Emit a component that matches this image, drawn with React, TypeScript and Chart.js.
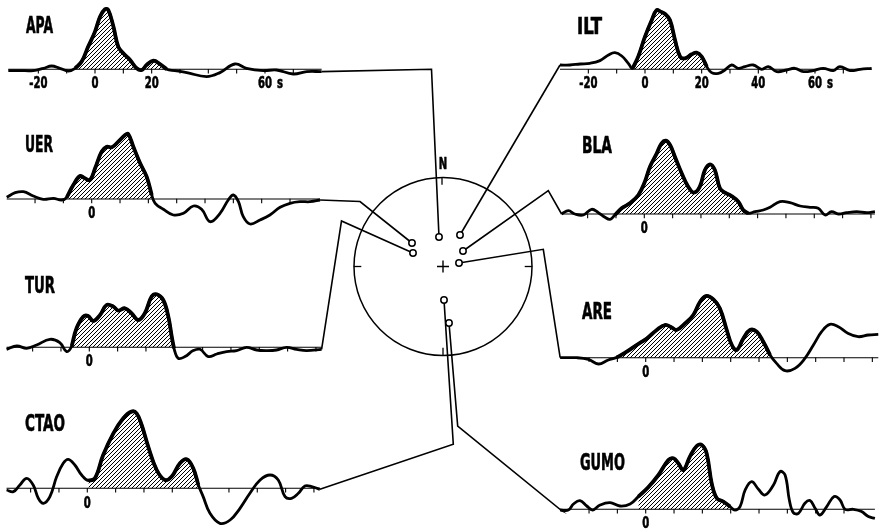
import React, { useEffect, useRef } from "react";
import { Chart, registerables } from "chart.js";
Chart.register(...registerables);

const W = 882;
const H = 530;
const PXS = 2.833; // px per second on every trace

// ---- trace data: time (s) and amplitude ----
const apaT = [-30.6,-26.5,-21.8,-18.2,-15.3,-12.4,-9.4,-7,-4.7,-2.4,0,1.8,3.5,4.7,6.5,8.2,10,12.4,14.7,16.5,18.2,20.6,22.9,25.3,28.2,32.4,39.4,44.1,49.4,53.5,59.4,64.1,70,74.7,80];
const apaA = [-1.3,-1.3,-1.3,1,3.3,1,-1.7,1,7.7,22.7,37.7,52.7,60,59.3,42.7,22.7,16,9.3,1,-0.7,4.3,8.7,5.3,0,-1.3,-3.3,-7.3,-3.3,5.3,1,-1.3,-0.7,-4.7,-2.3,-2.3];

const iltT = [-30,-26.5,-22.9,-19.4,-15.9,-12.9,-10.6,-8.2,-5.9,-4.4,-2.4,0,2.4,4.1,5.5,7.1,8.8,10.6,12.4,14.1,16.5,18.2,20,21.8,23.5,25.9,28.2,30.6,32.9,35.3,38.2,41.2,43.5,46.5,50,52.9,55.9,59.4,62.9,66.5,68.8,72.4,75.9,80];
const iltA = [4.3,4.3,5.3,6,8.7,14.3,16.7,13.3,6,1,12.7,32.7,49.3,59.3,57.7,55.3,49.3,29.3,12.7,11,15,16.7,12.7,2.7,-3.3,-4,-0.7,4.3,1,2.7,4.3,0,2.7,-2.3,-0.7,1,-2.3,-1.3,1,-1.3,2.7,-1.3,0,1];

const uerT = [-30,-27,-24.1,-20.6,-17.1,-13.5,-10.6,-8.8,-6.5,-4.1,-2.4,-0.6,1.2,3.5,5.3,7.1,9.4,11.8,12.9,14.7,17.1,19.4,21.2,22.4,25.3,28.8,32.4,35.9,38.8,41.8,45.3,48.2,50,51.8,53.5,55.9,59.4,62.9,66.5,70,73.5,77.1,80.6];
const uerA = [1.7,6.3,7.3,3,-0.3,0.7,-1,1.7,14,23,20.7,19,30.7,47.3,52.3,51.7,57.3,64,65,52.3,35.7,22.3,4,-4.3,-10.3,-16,-14.3,-7,-10.3,-22.7,-14.3,-1,4,-2.7,-17.7,-25,-21,-16,-8.3,-4.3,-2.7,-2.7,-1];

const turT = [-29.2,-25.6,-22.1,-18.6,-13.9,-10.4,-8,-6.2,-4.5,-2.1,-0.4,1.4,3.8,6.1,8.5,10.2,12.6,14.9,17.3,19.6,22,23.8,26.1,27.9,29.1,29.9,31.4,33.8,36.7,39.1,42,45,48.5,52,55.5,59.1,62.6,66.1,69.6,73.2,76.7,82];
const turA = [-2,1.3,-1,2.3,8,4.7,-4.3,1.3,19,30.7,31.3,26.3,32.3,42.3,40.7,36.7,39,34,27.3,34,50.7,53,47.3,30.7,10.7,-1,-11,-9.3,-3.3,-2,-9.3,-6.7,-4.3,-3.3,0,-2.7,-3.3,-2.7,0,-2,-3.3,-2];

const ctaoT = [-28.5,-26.1,-23.8,-21.4,-19.1,-17.3,-15.5,-13.2,-10.8,-8.5,-6.7,-4.4,-2,0.4,2.7,5.6,9.2,12.7,15.6,17.4,19.2,21.5,24.5,27.4,29.8,32.7,35.1,37.4,39.2,40.9,43.3,46.8,50.4,53.9,57.4,61,64.5,67.4,69.8,72.1,74.5,76.8,79.2,82.1];
const ctaoA = [-1.7,-3.3,3.3,10,3.3,-10,-15,-8.3,11.7,25,29,23.3,13.3,7.7,10,33.3,55,70,76.7,75,63.3,41.7,18.3,8.3,11.7,25,29,20,3.3,-8.3,-25,-35,-31.7,-20,-5,8.3,13.3,8.3,-8.3,-10,-5,2.3,1.7,-1];

const blaT = [-29.2,-26.8,-24.5,-21.5,-18.6,-16.2,-13.9,-12.1,-10.4,-8,-5.1,-2.1,0.2,2,4.4,6.1,7.6,9.1,10.8,13.2,15.5,17.5,19.6,21.4,23.2,24.9,26.7,28.5,30.8,33.2,34.9,36.7,39.1,42,44.4,47.9,51.4,55,58.5,61.4,63.8,66.1,68.5,71.4,75,78.5,81.4];
const blaA = [0,3.3,0,-1,4.7,1.3,-3.3,-5.3,-1,5.7,10.7,19,32.3,47.3,60.7,70.7,73.3,69,57.3,40.7,27.3,21.3,27.3,44,49.7,44,25.7,21.3,18,12.3,4,0.7,2.3,4,6.7,12.3,11.3,8,6.7,5.7,-1,2.3,0,1.3,2.3,1.3,2.3];

const areT = [-30.2,-24.4,-20.2,-16.7,-13.2,-10.2,-6.7,-3.2,0.4,3.9,6.8,9.2,10.9,13.9,16.8,19.2,21.3,23.9,26.2,28.6,30.4,32.1,34.5,36.8,39.2,41.5,43.9,46.2,49.2,52.7,56.2,59.2,62.1,65,68,71.5,75,78.6,82.1];
const areA = [0,0,-1.7,-6.3,-2.3,0.3,6,12.7,19.3,27.7,32.7,30.3,27.7,34.3,42.7,56,61.7,58.3,49.3,27.7,12.7,7.7,19.3,27.7,26,16,2.7,-5.7,-13,-10.7,-0.7,12.7,26,33.3,31,24.3,21,22.7,23.3];

const gumoT = [-30.2,-27.3,-25.5,-23.2,-20.8,-18.7,-16.1,-12.6,-9.1,-5.5,-2.6,0.9,4.5,8,9.8,11.5,13.3,15.6,18,19.8,21.5,23.3,25.1,27.4,29.8,31.5,33.3,35.1,37.4,39.8,42.1,45.1,47.4,49.2,50.7,52.1,53.9,56.2,58,59.8,61.5,63.9,66.5,68.6,70.4,73.3,76.2,78.6,80.9];
const gumoA = [-0.7,-0.7,5.3,8.7,3.3,-0.7,4.3,6.7,3.3,5.3,12.7,22,34.3,49.3,51,46,39.3,52.7,63.3,64.3,56,26,11,7.7,2.7,-0.7,2.7,19.3,27.7,20,14.3,24.3,37.7,34.3,9.3,-3.3,-4,6,8.7,1,-5.7,2.7,12.7,9.3,0,0,-2.3,-7.3,-9];

// ---- station names, hatched intervals (s), tick labels ----
const names = ["APA", "ILT", "UER", "TUR", "CTAO", "BLA", "ARE", "GUMO"];
const hatchFrom = [-7.5, -4.6, -9, -6.3, 0.4, -10.5, -10.3, -4];
const hatchTo = [25.3, 22.4, 21.8, 29.9, 39.4, 36.7, 44.2, 30.2];
const axisLabelsAPA = ["-20", "0", "20", "60"];
const axisValuesAPA = [-20, 0, 20, 60];
const axisLabelsILT = ["-20", "0", "20", "40", "60"];
const axisValuesILT = [-20, 0, 20, 40, 60];
const axisLabelsOther = ["0"];
const axisValuesOther = [0];

// ---- map: station positions inside the circle ----
const stationX = [439, 460, 412, 413, 444, 463, 459, 449];
const stationY = [237, 235, 243, 253, 300, 251, 263, 323];

// ---- layout (positions only) ----
const layout = [
  { x0: 95, base: 69.3, nx: 26, ny: 27, nw: 27, ldy: 15 },
  { x0: 645, base: 69.3, nx: 577, ny: 28, nw: 25, ldy: 15 },
  { x0: 91.7, base: 199, nx: 25, ny: 146, nw: 28, ldy: 15 },
  { x0: 89.3, base: 347.3, nx: 25, ny: 287, nw: 30, ldy: 15 },
  { x0: 87.3, base: 488.3, nx: 25, ny: 425, nw: 40, ldy: 16 },
  { x0: 644.3, base: 214, nx: 582, ny: 147, nw: 30, ldy: 15 },
  { x0: 645.7, base: 357.7, nx: 582, ny: 313, nw: 30, ldy: 15 },
  { x0: 645.7, base: 509.3, nx: 580, ny: 464, nw: 45, ldy: 15 },
];
// connector bends between trace ends and stations
const bends: { x: number; y: number }[][] = [
  [{ x: 431.5, y: 69.3 }],
  [],
  [{ x: 360, y: 201.5 }],
  [{ x: 341.5, y: 221 }],
  [{ x: 453.3, y: 444.3 }],
  [{ x: 548.3, y: 190.7 }],
  [{ x: 543.3, y: 249.3 }],
  [{ x: 457.7, y: 426 }, { x: 561.7, y: 510.7 }],
];
const fromEnd = [true, false, true, true, true, false, false, false];
const circle = { x: 443, y: 266.5, r: 89 };

const traceT = [apaT, iltT, uerT, turT, ctaoT, blaT, areT, gumoT];
const traceA = [apaA, iltA, uerA, turA, ctaoA, blaA, areA, gumoA];

const FONT = '"DejaVu Sans Condensed", "Liberation Sans Narrow", "Liberation Sans", sans-serif';

function makeHatch(): CanvasPattern | string {
  const s = 4;
  const c = document.createElement("canvas");
  c.width = s;
  c.height = s;
  const g = c.getContext("2d");
  if (!g) return "#888";
  g.strokeStyle = "#000";
  g.lineWidth = 1;
  g.beginPath();
  g.moveTo(0, s); g.lineTo(s, 0);
  g.moveTo(-1, 1); g.lineTo(1, -1);
  g.moveTo(s - 1, s + 1); g.lineTo(s + 1, s - 1);
  g.stroke();
  return g.createPattern(c, "repeat") || "#888";
}

export default function App() {
  const ref = useRef<HTMLCanvasElement | null>(null);
  useEffect(() => {
    document.body.style.margin = "0";
    const cv = ref.current;
    if (!cv) return;
    const hatch = makeHatch();
    const ds: any[] = [];
    const connectorData: { x: number; y: number }[][] = [];

    names.forEach((_, k) => {
      const L = layout[k];
      const T = traceT[k];
      const A = traceA[k];
      const pts = T.map((t, i) => ({ x: L.x0 + t * PXS, y: L.base - A[i] }));
      const first = pts[0];
      const last = pts[pts.length - 1];
      // baseline
      ds.push({ data: [{ x: first.x, y: L.base }, { x: last.x, y: L.base }], showLine: true, borderColor: "#000", borderWidth: 1.1, pointRadius: 0, order: 7 });
      // tick marks every 10 s
      const tks: { x: number; y: number }[] = [];
      for (let t = -30; t <= 80; t += 10) {
        const x = L.x0 + t * PXS;
        if (x > first.x + 3 && x < last.x - 3) tks.push({ x, y: L.base + 2 });
      }
      ds.push({ data: tks, showLine: false, pointStyle: "line", rotation: 90, pointRadius: 2.2, borderColor: "#000", borderWidth: 1.1, order: 7 });
      // hatched pulse
      const hp = pts.filter((_, i) => T[i] >= hatchFrom[k] && T[i] <= hatchTo[k]);
      ds.push({ data: hp, showLine: true, tension: 0.4, borderColor: "#000", borderWidth: 3.8, pointRadius: 0, fill: { value: L.base }, backgroundColor: hatch, order: 6 });
      // trace
      ds.push({ data: pts, showLine: true, tension: 0.4, borderColor: "#000", borderWidth: 2.8, pointRadius: 0, fill: false, order: 5 });
      // connector
      const st = { x: stationX[k], y: stationY[k] };
      const c = fromEnd[k]
        ? [last, ...bends[k], st]
        : [st, ...bends[k], first];
      connectorData.push(c);
    });

    connectorData.forEach((c) => {
      ds.push({ data: c, showLine: true, tension: 0, borderColor: "#000", borderWidth: 1.6, pointRadius: 0, order: 3 });
    });

    // big circle
    ds.push({ data: [{ x: circle.x, y: circle.y }], showLine: false, pointStyle: "circle", pointRadius: circle.r, borderColor: "#000", borderWidth: 1.5, backgroundColor: "rgba(0,0,0,0)", order: 4 });
    // circle ticks
    ds.push({ data: [{ x: circle.x - circle.r + 3.5, y: circle.y }, { x: circle.x + circle.r - 3.5, y: circle.y }], showLine: false, pointStyle: "line", rotation: 0, pointRadius: 3.8, borderColor: "#000", borderWidth: 1.3, order: 4 });
    ds.push({ data: [{ x: circle.x - 1, y: circle.y - circle.r + 3.5 }, { x: circle.x, y: circle.y + circle.r - 4 }], showLine: false, pointStyle: "line", rotation: 90, pointRadius: 3.8, borderColor: "#000", borderWidth: 1.3, order: 4 });
    // centre cross
    ds.push({ data: [{ x: circle.x, y: circle.y }], showLine: false, pointStyle: "cross", pointRadius: 6, borderColor: "#000", borderWidth: 1.4, order: 4 });
    // stations
    ds.push({ data: stationX.map((x, i) => ({ x, y: stationY[i] })), showLine: false, pointStyle: "circle", pointRadius: 3.2, borderColor: "#000", borderWidth: 1.5, backgroundColor: "#fff", order: 1 });

    const textPlugin = {
      id: "texts",
      afterDatasetsDraw(chart: any) {
        const ctx: CanvasRenderingContext2D = chart.ctx;
        const xs = chart.scales.x;
        const ys = chart.scales.y;
        const draw = (s: string, x: number, y: number, size: number, sx: number, align: "left" | "center", width?: number) => {
          ctx.save();
          ctx.font = `bold ${size}px ${FONT}`;
          ctx.fillStyle = "#000";
          ctx.strokeStyle = "#000";
          ctx.lineWidth = 0.6;
          ctx.textBaseline = "middle";
          ctx.textAlign = align;
          let scale = sx;
          if (width) {
            const m = ctx.measureText(s).width;
            if (m > 0) scale = width / m;
          }
          ctx.translate(x, y);
          ctx.scale(scale, 1);
          ctx.fillText(s, 0, 0);
          ctx.strokeText(s, 0, 0);
          ctx.restore();
        };
        names.forEach((n, k) => {
          const L = layout[k];
          draw(n, xs.getPixelForValue(L.nx), ys.getPixelForValue(L.ny), 23, 0.8, "left", L.nw);
          const labs = k === 0 ? axisLabelsAPA : k === 1 ? axisLabelsILT : axisLabelsOther;
          const vals = k === 0 ? axisValuesAPA : k === 1 ? axisValuesILT : axisValuesOther;
          labs.forEach((s, i) => {
            const x = xs.getPixelForValue(L.x0 + vals[i] * PXS);
            const y = ys.getPixelForValue(L.base + L.ldy);
            draw(s, x, y, 16, 0.7, "center");
            if (vals[i] === 60) draw("s", x + 15, y, 16, 0.7, "center");
          });
        });
        draw("N", xs.getPixelForValue(circle.x), ys.getPixelForValue(circle.y - circle.r - 13), 16, 0.7, "center");
      },
    };

    const chart = new Chart(cv, {
      type: "scatter",
      data: { datasets: ds },
      options: {
        animation: false,
        responsive: false,
        devicePixelRatio: 1,
        layout: { padding: 0, autoPadding: false },
        plugins: { legend: { display: false }, tooltip: { enabled: false } },
        events: [],
        scales: {
          x: { type: "linear", min: 0, max: W, display: false },
          y: { type: "linear", min: 0, max: H, reverse: true, display: false },
        },
        elements: { line: { capBezierPoints: true }, point: { hitRadius: 0 } },
      },
      plugins: [textPlugin],
    } as any);
    return () => chart.destroy();
  }, []);
  return (
    <canvas ref={ref} width={W} height={H} style={{ display: "block", width: W, height: H, background: "#fff" }} />
  );
}
